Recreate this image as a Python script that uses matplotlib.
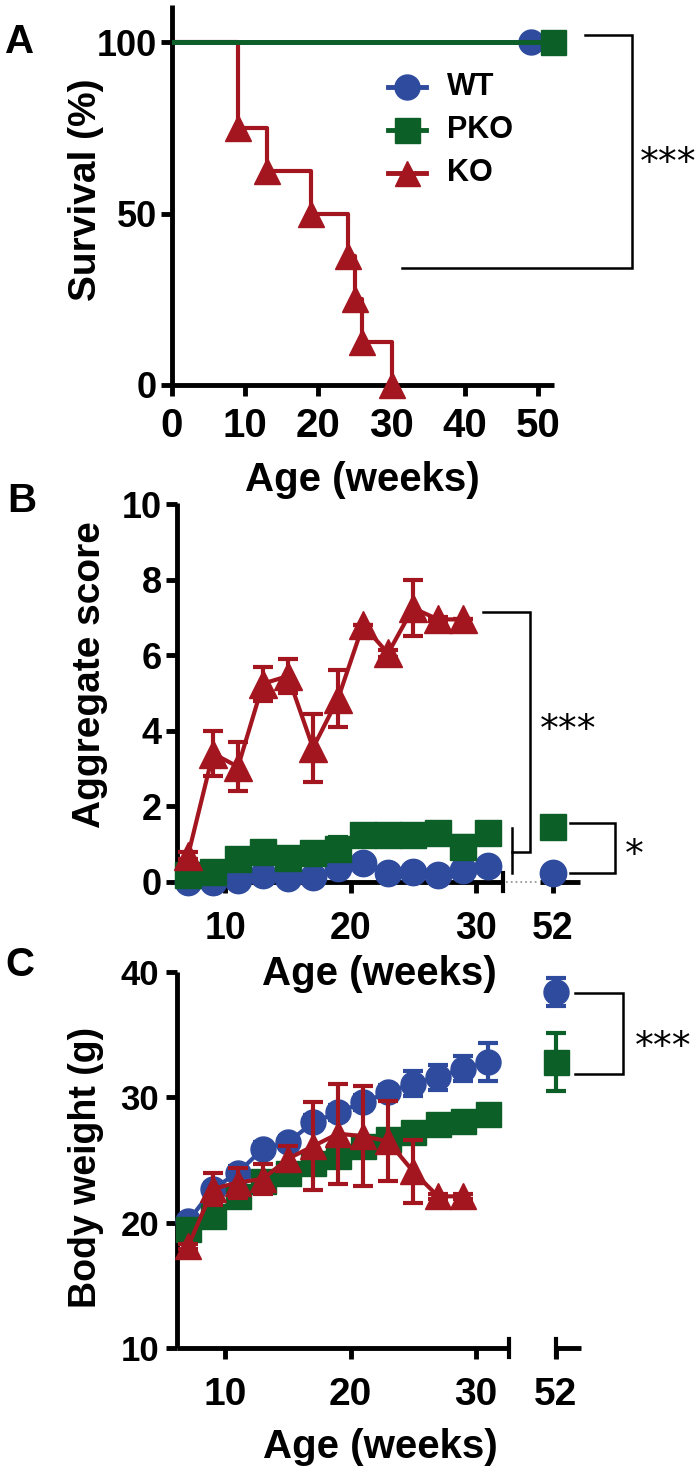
import numpy as np
import matplotlib
matplotlib.use('Agg')
import matplotlib.pyplot as plt
from matplotlib import transforms

plt.rcParams['font.family'] = ['Liberation Sans', 'DejaVu Sans']
plt.rcParams['font.weight'] = 'bold'

BLUE = '#2f4b9e'
GREEN = '#0c5f27'
RED = '#a3151f'
names = ['WT', 'PKO', 'KO']
colors = [BLUE, GREEN, RED]
markers = ['o', 's', '^']

# A: Kaplan-Meier survival
wt_t = [0, 49]
wt_surv = [100, 100]
pko_t = [0, 52]
pko_surv = [100, 100]
ko_t = [0, 9, 13, 19, 24, 25, 26, 30]
ko_surv = [100, 75, 62.5, 50, 37.5, 25, 12.5, 0]

# B: aggregate score
weeks = [7, 9, 11, 13, 15, 17, 19, 21, 23, 25, 27, 29, 31]
weeks_ko = [7, 9, 11, 13, 15, 17, 19, 21, 23, 25, 27, 29]
wt_score = [0.0, 0.0, 0.05, 0.19, 0.1, 0.14, 0.36, 0.5, 0.23, 0.27, 0.19, 0.32, 0.42]
wt_score_err = [0, 0, 0, 0, 0, 0, 0.05, 0.05, 0, 0, 0, 0.05, 0.1]
pko_score = [0.19, 0.27, 0.6, 0.8, 0.63, 0.76, 0.88, 1.24, 1.24, 1.24, 1.29, 0.93, 1.29]
pko_score_err = [0, 0, 0, 0, 0, 0, 0.3, 0, 0, 0, 0.25, 0.3, 0.1]
ko_score = [0.7, 3.4, 3.05, 5.25, 5.45, 3.55, 4.85, 6.8, 6.05, 7.25, 6.95, 6.95]
ko_score_err = [0.1, 0.6, 0.65, 0.45, 0.45, 0.9, 0.75, 0.0, 0.1, 0.75, 0.05, 0.0]
wt_score_52, wt_score_52_err = 0.24, 0.0
pko_score_52, pko_score_52_err = 1.46, 0.1

# C: body weight
wt_bw = [20.1, 22.7, 24.0, 25.9, 26.4, 28.0, 28.8, 29.6, 30.4, 31.1, 31.6, 32.3, 32.8]
wt_bw_err = [0.3, 0.5, 0.5, 0.5, 0.5, 0.6, 0.6, 0.6, 0.6, 1.0, 1.0, 1.0, 1.5]
pko_bw = [19.5, 20.5, 22.1, 23.3, 24.0, 24.8, 25.3, 26.1, 26.7, 27.2, 27.9, 28.1, 28.7]
pko_bw_err = [0.5] * 13
ko_bw = [18.1, 22.7, 23.2, 23.5, 25.1, 26.1, 27.1, 26.9, 26.5, 24.1, 22.1, 22.1]
ko_bw_err = [0.2, 1.3, 1.2, 1.2, 1.0, 3.5, 4.0, 4.0, 3.2, 2.5, 0.2, 0.2]
wt_bw_52, wt_bw_52_err = 38.4, 1.1
pko_bw_52, pko_bw_52_err = 32.8, 2.3

W, H = 700, 1473
fig = plt.figure(figsize=(W / 100, H / 100), dpi=100)


def rect(l, t, r, b):
    return [l / W, 1 - b / H, (r - l) / W, (b - t) / H]


def fx(px):
    return px / W


def fy(py):
    return 1 - py / H


def style_axes(ax, xsize, ysize, xpad, ypad):
    for s in ['top', 'right']:
        ax.spines[s].set_visible(False)
    for s in ['left', 'bottom']:
        ax.spines[s].set_linewidth(3.5)
        ax.spines[s].set_capstyle('butt')
    ax.tick_params(axis='both', width=3.5, length=8)
    ax.tick_params(axis='x', labelsize=xsize, pad=xpad)
    ax.tick_params(axis='y', labelsize=ysize, pad=ypad)
    ax.patch.set_alpha(0)


def stars(ax, x, y, s, size=27):
    tr = transforms.offset_copy(ax.transData, fig=fig, x=0, y=-0.56 * size, units='points')
    ax.text(x, y, s, transform=tr, ha='center', va='baseline', fontsize=size,
            fontweight='normal', family='DejaVu Sans', clip_on=False)


def bracket(ax, x0, x1, y0, y1, x_low=None):
    if x_low is None:
        x_low = x0
    ax.plot([x0, x1, x1, x_low], [y0, y0, y1, y1], color='black', lw=1.8, clip_on=False,
            solid_joinstyle='miter')


# ---------------- A ----------------
axA = fig.add_axes(rect(172, 5, 554, 385))
style_axes(axA, 29, 26, 8, 3)
axA.set_xlim(0, 52.2)
axA.set_ylim(0, 110.8)
axA.set_xticks([0, 10, 20, 30, 40, 50])
axA.set_yticks([0, 50, 100])
axA.spines['left'].set_bounds(0, 110.8)

axA.step(ko_t, ko_surv, where='post', color=RED, lw=3, zorder=3)
axA.plot(ko_t[1:], ko_surv[1:], ls='none', marker='^', ms=19, color=RED, zorder=3, clip_on=False)
axA.plot(wt_t, wt_surv, color=BLUE, lw=3.5, zorder=4)
axA.plot(wt_t[-1], wt_surv[-1], marker='o', ms=18, color=BLUE, zorder=4, clip_on=False)
axA.plot(pko_t, pko_surv, color=GREEN, lw=3.5, zorder=5)
axA.plot(pko_t[-1], pko_surv[-1], marker='s', ms=18, color=GREEN, zorder=5, clip_on=False)

for i, (n, c, m) in enumerate(zip(names, colors, markers)):
    yy = 86.9 - 12.5 * i
    axA.plot([29.5, 34.7], [yy, yy], color=c, lw=3.5)
    axA.plot(32.1, yy, marker=m, ms=18, color=c)
    axA.text(37.6, yy, n, fontsize=22, va='center', ha='left')

bracket(axA, 56.4, 62.8, 102, 34.1, x_low=31.4)
stars(axA, 67.8, 67.6, '***')

fig.text(fx(86), fy(190), 'Survival (%)', rotation=90, ha='center', va='center', fontsize=28)
fig.text(fx(362), fy(480), 'Age (weeks)', ha='center', va='center', fontsize=29)
fig.text(fx(20), fy(42), 'A', ha='center', va='center', fontsize=29)

# ---------------- B ----------------
X52 = 36.2
axB = fig.add_axes(rect(177, 503, 700, 882))
style_axes(axB, 27, 26, 13, 3)
axB.set_xlim(6.12, 47.96)
axB.set_ylim(0, 10.03)
axB.set_yticks([0, 2, 4, 6, 8, 10])
axB.set_xticks([10, 20, 30, X52])
axB.set_xticklabels(['10', '20', '30', '52'])
axB.spines['bottom'].set_bounds(6.12, 32.2)
axB.spines['left'].set_bounds(0, 10.03)

ekw = dict(capsize=7, capthick=3, elinewidth=3, lw=3, clip_on=False)
for x, y, e, c, m, ms, z in [(weeks, wt_score, wt_score_err, BLUE, 'o', 19, 3),
                             (weeks, pko_score, pko_score_err, GREEN, 's', 19, 4),
                             (weeks_ko, ko_score, ko_score_err, RED, '^', 20, 5)]:
    axB.errorbar(x, y, yerr=e, color=c, marker=m, ms=ms, zorder=z, **ekw)
axB.errorbar([X52], [wt_score_52], yerr=[wt_score_52_err], color=BLUE, marker='o', ms=19, zorder=3, **ekw)
axB.errorbar([X52], [pko_score_52], yerr=[pko_score_52_err], color=GREEN, marker='s', ms=19, zorder=4, **ekw)

# broken axis pieces
axB.plot([32.2, 32.2], [-0.25, 0.25], color='black', lw=3, clip_on=False)
axB.plot([32.4, 34.9], [0, 0], color='#9a9a9a', lw=1.3, ls=':', clip_on=False)
axB.plot([35.16, 38.36], [0, 0], color='black', lw=3.5, clip_on=False, solid_capstyle='butt')

bracket(axB, 30.6, 34.36, 7.14, 0.79, x_low=32.9)
axB.plot([32.9, 32.9], [1.43, 0.24], color='black', lw=1.8, clip_on=False)
stars(axB, 37.4, 4.29, '***')
bracket(axB, 37.56, 41.16, 1.56, 0.24)
stars(axB, 42.7, 0.98, '*')

fig.text(fx(90), fy(675), 'Aggregate score', rotation=90, ha='center', va='center', fontsize=28)
fig.text(fx(379), fy(974), 'Age (weeks)', ha='center', va='center', fontsize=29)
fig.text(fx(22), fy(501), 'B', ha='center', va='center', fontsize=29)

# ---------------- C ----------------
X52C = 36.4
axC = fig.add_axes(rect(177, 972, 700, 1348))
style_axes(axC, 28, 25, 13, 5)
axC.set_xlim(6.12, 47.96)
axC.set_ylim(10, 40)
axC.set_yticks([10, 20, 30, 40])
axC.set_xticks([10, 20, 30, X52C])
axC.set_xticklabels(['10', '20', '30', '52'])
axC.spines['bottom'].set_bounds(6.12, 32.7)
axC.spines['left'].set_bounds(10, 40)

for x, y, e, c, m, ms, z in [(weeks, wt_bw, wt_bw_err, BLUE, 'o', 18, 3),
                             (weeks, pko_bw, pko_bw_err, GREEN, 's', 18, 4),
                             (weeks_ko, ko_bw, ko_bw_err, RED, '^', 19, 5)]:
    axC.errorbar(x, y, yerr=e, color=c, marker=m, ms=ms, zorder=z, **ekw)
axC.errorbar([X52C], [wt_bw_52], yerr=[wt_bw_52_err], color=BLUE, marker='o', ms=18, zorder=3, **ekw)
axC.errorbar([X52C], [pko_bw_52], yerr=[pko_bw_52_err], color=GREEN, marker='s', ms=18, zorder=4, **ekw)

axC.plot([32.7, 32.7], [9.28, 10.72], color='black', lw=3, clip_on=False)
axC.plot([X52C, X52C], [9.28, 10.72], color='black', lw=3, clip_on=False)
axC.plot([X52C, 38.4], [10, 10], color='black', lw=3.5, clip_on=False, solid_capstyle='butt')

bracket(axC, 37.96, 41.8, 38.3, 31.9)
stars(axC, 45.0, 34.8, '***')

fig.text(fx(86), fy(1167), 'Body weight (g)', rotation=90, ha='center', va='center', fontsize=27)
fig.text(fx(380), fy(1447), 'Age (weeks)', ha='center', va='center', fontsize=29)
fig.text(fx(20), fy(965), 'C', ha='center', va='center', fontsize=29)

fig.savefig('out.png', dpi=100)
